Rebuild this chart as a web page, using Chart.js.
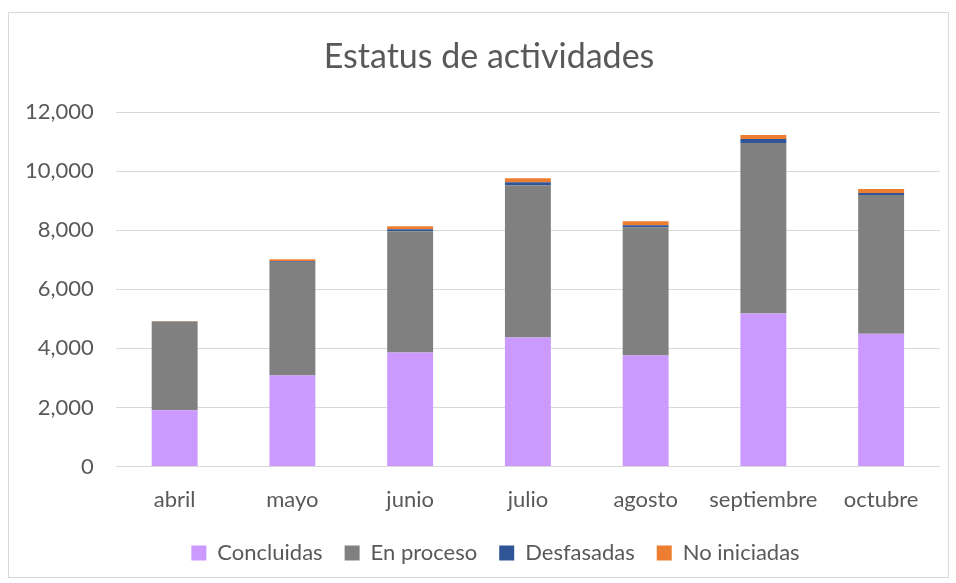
<!DOCTYPE html>
<html>
<head>
<meta charset="utf-8">
<script src="https://cdn.jsdelivr.net/npm/chart.js@4"></script>
<style>
  html, body { margin: 0; padding: 0; background: #fff; }
  #wrap { position: absolute; left: 8px; top: 12px; width: 939px; height: 564px; border: 1px solid #d9d9d9; }
  #box { position: absolute; left: 0; top: 0; width: 956px; height: 583px; }
</style>
</head>
<body>
<div id="wrap"></div>
<div id="box"><canvas id="grafico"></canvas></div>
<script>
// Datos
const titulo = "Estatus de actividades";
const meses = ["abril", "mayo", "junio", "julio", "agosto", "septiembre", "octubre"];
const concluidas = [1910, 3085, 3865, 4370, 3760, 5180, 4500];
const enProceso = [3000, 3835, 4100, 5155, 4340, 5770, 4690];
const desfasadas = [0, 30, 70, 100, 70, 135, 70];
const noIniciadas = [15, 65, 100, 135, 135, 135, 135];
const ticksY = [0, 2000, 4000, 6000, 8000, 10000, 12000];

const fuente = "Lato, 'Open Sans', sans-serif";
const gris = "#595959";
const padLeyenda = 22;
const recorte = padLeyenda - 9;

// título centrado como en Excel
const tituloPlugin = {
  id: "tituloExcel",
  afterDraw(chart) {
    const c = chart.ctx;
    c.save();
    c.fillStyle = gris;
    c.font = "34px " + fuente;
    c.textAlign = "center";
    c.textBaseline = "middle";
    c.fillText(titulo, 489, 57);
    c.restore();
  },
};

// leyenda: mismo espacio horizontal entre items pero menos alto
const leyendaPlugin = {
  id: "leyendaCompacta",
  beforeLayout(chart) {
    const lg = chart.legend;
    if (lg && !lg._parcheado) {
      const fitOrig = lg.fit;
      lg.fit = function () {
        fitOrig.call(this);
        this.height -= recorte;
      };
      lg._parcheado = true;
    }
  },
  afterLayout(chart) {
    const lg = chart.legend;
    lg.top -= recorte;
    lg.height += recorte;
    lg.left += 24;
    lg.right += 24;
  },
};

const ctx = document.getElementById("grafico").getContext("2d");
new Chart(ctx, {
  type: "bar",
  data: {
    labels: meses,
    datasets: [
      { label: "Concluidas", data: concluidas, backgroundColor: "#cc99ff" },
      { label: "En proceso", data: enProceso, backgroundColor: "#808080" },
      { label: "Desfasadas", data: desfasadas, backgroundColor: "#2f5597" },
      { label: "No iniciadas", data: noIniciadas, backgroundColor: "#ed7d31" },
    ],
  },
  plugins: [tituloPlugin, leyendaPlugin],
  options: {
    responsive: true,
    maintainAspectRatio: false,
    animation: false,
    datasets: { bar: { categoryPercentage: 1, barPercentage: 0.39 } },
    layout: { padding: { left: 3, right: 16, top: 112, bottom: 9 } },
    plugins: {
      title: { display: false },
      legend: {
        position: "bottom",
        labels: {
          color: gris,
          font: { family: fuente, size: 22 },
          boxWidth: 15,
          boxHeight: 15,
          padding: padLeyenda,
        },
      },
      tooltip: { enabled: false },
    },
    scales: {
      x: {
        stacked: true,
        grid: { display: false, drawTicks: false },
        border: { display: false },
        ticks: { color: gris, font: { family: fuente, size: 22 }, padding: 20 },
      },
      y: {
        stacked: true,
        min: 0,
        max: 12000,
        afterBuildTicks: (axis) => { axis.ticks = ticksY.map((v) => ({ value: v })); },
        grid: { color: "#d9d9d9", lineWidth: 1, drawTicks: false },
        border: { display: false },
        ticks: {
          color: gris,
          font: { family: fuente, size: 22 },
          padding: 22,
          callback: (v) => v.toLocaleString("en-US"),
        },
      },
    },
  },
});
</script>
</body>
</html>
